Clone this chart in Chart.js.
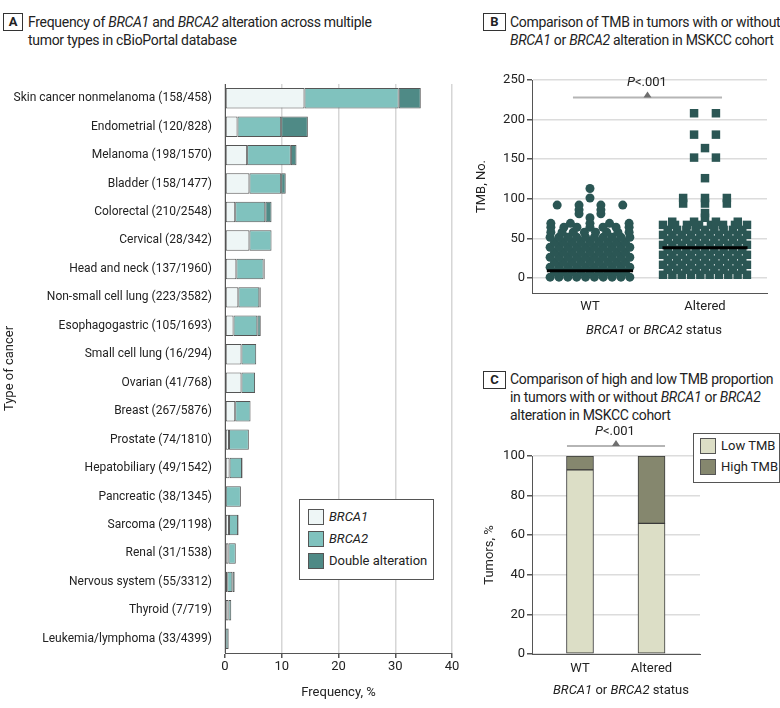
<!DOCTYPE html>
<html>
<head>
<meta charset="utf-8">
<script src="https://cdn.jsdelivr.net/npm/chart.js@4.4.1/dist/chart.umd.min.js"></script>
<style>
body { margin: 0; width: 780px; height: 708px; position: relative; overflow: hidden; background: #fff; font-family: Roboto, 'Liberation Sans', sans-serif; color: #222; }
canvas { position: absolute; }
.box { position: absolute; border: 1px solid #333; font-weight: bold; font-size: 13px; text-align: center; line-height: 16px; height: 16px; }
.hdr { position: absolute; font-size: 14px; line-height: 18px; letter-spacing: -0.3px; white-space: nowrap; }
.txt { position: absolute; font-size: 13px; white-space: nowrap; }
.legend { position: absolute; border: 1px solid #555; background: #fff; font-size: 13px; }
.li { position: absolute; left: 8px; white-space: nowrap; line-height: 16px; }
.sw { display: inline-block; width: 14px; height: 14px; border: 1px solid #555; vertical-align: top; margin-right: 5px; }
</style>
</head>
<body>

<div class="box" style="left:3px;top:13px;width:18px">A</div>
<div class="hdr" style="left:28px;top:13px">Frequency of <i>BRCA1</i> and <i>BRCA2</i> alteration across multiple<br>tumor types in cBioPortal database</div>

<div class="box" style="left:483px;top:13px;width:21px">B</div>
<div class="hdr" style="left:510px;top:13px">Comparison of TMB in tumors with or without<br><i>BRCA1</i> or <i>BRCA2</i> alteration in MSKCC cohort</div>

<div class="box" style="left:483px;top:371px;width:21px">C</div>
<div class="hdr" style="left:510px;top:370px">Comparison of high and low TMB proportion<br>in tumors with or without <i>BRCA1</i> or <i>BRCA2</i><br>alteration in MSKCC cohort</div>

<canvas id="chartA" width="465" height="648" style="left:0;top:60px"></canvas>
<canvas id="chartB" width="310" height="290" style="left:470px;top:55px"></canvas>
<canvas id="chartC" width="310" height="278" style="left:470px;top:430px"></canvas>

<div class="legend" style="left:299px;top:499px;width:133px;height:79px">
  <div class="li" style="top:9px"><span class="sw" style="background:#eef6f6"></span><i>BRCA1</i></div>
  <div class="li" style="top:31px"><span class="sw" style="background:#80c2be"></span><i>BRCA2</i></div>
  <div class="li" style="top:53px"><span class="sw" style="background:#4f8a86"></span>Double alteration</div>
</div>

<div class="legend" style="left:693px;top:433px;width:85px;height:48px">
  <div class="li" style="top:4px;left:6px"><span class="sw" style="background:#dcdec6"></span>Low TMB</div>
  <div class="li" style="top:25px;left:6px"><span class="sw" style="background:#85876e"></span>High TMB</div>
</div>

<div class="txt" style="left:627px;top:74px"><i>P</i>&lt;.001</div>
<div class="txt" style="left:595px;top:423px"><i>P</i>&lt;.001</div>
<div class="txt" style="left:586px;top:322px"><i>BRCA1</i> or <i>BRCA2</i> status</div>
<div class="txt" style="left:553px;top:682px"><i>BRCA1</i> or <i>BRCA2</i> status</div>

<script>
Chart.defaults.font.family = "Roboto, 'Liberation Sans', sans-serif";
Chart.defaults.color = '#222';

// Panel A: alteration frequency per cancer type (%)
const cancerTypes = [
    'Skin cancer nonmelanoma (158/458)', 'Endometrial (120/828)', 'Melanoma (198/1570)',
    'Bladder (158/1477)', 'Colorectal (210/2548)', 'Cervical (28/342)', 'Head and neck (137/1960)',
    'Non-small cell lung (223/3582)', 'Esophagogastric (105/1693)', 'Small cell lung (16/294)',
    'Ovarian (41/768)', 'Breast (267/5876)', 'Prostate (74/1810)', 'Hepatobiliary (49/1542)',
    'Pancreatic (38/1345)', 'Sarcoma (29/1198)', 'Renal (31/1538)', 'Nervous system (55/3312)',
    'Thyroid (7/719)', 'Leukemia/lymphoma (33/4399)'
];
const brca1 = [14.0, 2.2, 3.9, 4.3, 1.8, 4.3, 2.0, 2.35, 1.5, 2.9, 2.9, 1.8, 0.7, 0.8, null, 0.7, 0.6, 0.4, 0.6, 0.1];
const brca2 = [16.6, 7.7, 7.7, 5.6, 5.3, 3.9, 4.8, 3.7, 4.2, 2.6, 2.4, 2.7, 3.5, 2.2, 2.8, 1.6, 1.3, 0.9, 0.5, 0.5];
const doubleAlt = [3.9, 4.7, 1.0, 0.8, 1.1, null, 0.2, 0.25, 0.6, null, null, null, null, 0.1, null, 0.1, null, 0.4, null, 0.1];

// Panel B: TMB swarm rows [TMB value, number of tumors in the row]
const statusLabels = ['WT', 'Altered'];
const wtRows = [
    [1, 10], [7.3, 9], [13.6, 10], [19.9, 9], [26.2, 10], [32.5, 9], [38.8, 10], [45.1, 9],
    [51.4, 10], [57.7, 8], [64, 7], [69, 5], [76, 1], [81, 2], [86, 2], [92, 4], [101, 1], [113, 1]
];
const altRows = [
    [4, 10], [10.3, 9], [16.6, 10], [22.9, 9], [29.2, 10], [35.5, 9], [41.8, 10], [48.1, 9],
    [54.4, 10], [60.7, 9], [67, 8], [71, 4], [76, 1], [82, 1], [94, 3], [101, 3], [126, 1],
    [152, 2], [164, 1], [181, 2], [208, 2]
];
const tmbMedian = [9, 38];

// Panel C: share of tumors (%)
const lowTmb = [93, 66];
const highTmb = [7, 34];

// spread each row sideways: packed rows use a fixed step, sparse rows fan out
function swarm(rows, center, step, spread) {
    const pts = [];
    rows.forEach(([v, n]) => {
        const gap = n >= 9 ? step : (n > 1 ? Math.min(0.19, spread / (n - 1)) : 0);
        for (let i = 0; i < n; i++) {
            pts.push({ x: center + (i - (n - 1) / 2) * gap, y: v });
        }
    });
    return pts;
}

// bracket with a small triangle, drawn above the groups
function bracket(yValue, x0, x1) {
    return {
        id: 'bracket',
        afterDraw(chart) {
            const { ctx, scales: { x, y } } = chart;
            const py = y.getPixelForValue(yValue);
            const a = x.getPixelForValue(x0), b = x.getPixelForValue(x1);
            const m = (a + b) / 2;
            ctx.save();
            ctx.strokeStyle = '#b5b5b5';
            ctx.lineWidth = 2;
            ctx.beginPath();
            ctx.moveTo(a, py);
            ctx.lineTo(b, py);
            ctx.stroke();
            ctx.fillStyle = '#6e6e6e';
            ctx.beginPath();
            ctx.moveTo(m - 4, py);
            ctx.lineTo(m + 4, py);
            ctx.lineTo(m, py - 6);
            ctx.closePath();
            ctx.fill();
            ctx.restore();
        }
    };
}

const tickStatus = (v) => (v === 1 ? statusLabels[0] : v === 2 ? statusLabels[1] : '');

new Chart(document.getElementById('chartA'), {
    type: 'bar',
    data: {
        labels: cancerTypes,
        datasets: [
            { label: 'BRCA1', data: brca1, backgroundColor: '#eef6f6' },
            { label: 'BRCA2', data: brca2, backgroundColor: '#80c2be' },
            { label: 'Double alteration', data: doubleAlt, backgroundColor: '#4f8a86' }
        ]
    },
    options: {
        indexAxis: 'y',
        responsive: false,
        animation: false,
        layout: { padding: { top: 24, right: 13 } },
        datasets: { bar: { categoryPercentage: 0.72, barPercentage: 1, borderColor: '#555', borderWidth: 1, borderSkipped: false } },
        plugins: { legend: { display: false }, tooltip: { enabled: false } },
        scales: {
            x: {
                stacked: true, min: 0, max: 40,
                ticks: { stepSize: 10, font: { size: 13 }, padding: 1 },
                grid: { color: '#d6d6d6', lineWidth: 1.5, tickColor: '#555', tickLength: 5 },
                border: { color: '#555' },
                title: { display: true, text: 'Frequency, %', font: { size: 13 }, padding: { top: 2, bottom: 7 } },
                afterFit: (s) => { s.height = 55; }
            },
            y: {
                stacked: true,
                ticks: { font: { size: 12 }, padding: 5, color: '#222' },
                grid: { display: false },
                border: { color: '#555' },
                title: { display: true, text: 'Type of cancer', font: { size: 13 }, padding: { top: 2 } },
                afterFit: (s) => { s.width = 225; }
            }
        }
    }
});

new Chart(document.getElementById('chartB'), {
    type: 'scatter',
    data: {
        datasets: [
            { data: swarm(wtRows, 1, 0.077, 0.68), order: 2, pointStyle: 'circle', pointRadius: 4.5, backgroundColor: '#2b5654', borderWidth: 0 },
            { data: swarm(altRows, 2, 0.081, 0.73), order: 2, pointStyle: 'rect', pointRadius: 6, backgroundColor: '#2b5654', borderWidth: 0 },
            { type: 'line', order: 1, data: [{ x: 0.625, y: tmbMedian[0] }, { x: 1.375, y: tmbMedian[0] }], borderColor: '#000', borderWidth: 3, pointRadius: 0 },
            { type: 'line', order: 1, data: [{ x: 1.63, y: tmbMedian[1] }, { x: 2.37, y: tmbMedian[1] }], borderColor: '#000', borderWidth: 3, pointRadius: 0 }
        ]
    },
    options: {
        responsive: false,
        animation: false,
        clip: false,
        layout: { padding: { top: 25, right: 13 } },
        plugins: { legend: { display: false }, tooltip: { enabled: false } },
        scales: {
            x: {
                type: 'linear', min: 0.496, max: 2.539,
                afterBuildTicks: (s) => { s.ticks = [{ value: 1 }, { value: 2 }]; },
                ticks: { callback: tickStatus, font: { size: 13 }, padding: 6, maxRotation: 0 },
                grid: { display: false, drawTicks: false },
                border: { color: '#555' },
                afterFit: (s) => { s.height = 52; }
            },
            y: {
                min: -19, max: 250,
                afterBuildTicks: (s) => { s.ticks = [0, 50, 100, 150, 200, 250].map(v => ({ value: v })); },
                ticks: { font: { size: 13 }, padding: 2 },
                grid: { color: '#dcdcdc', lineWidth: 1.5, tickColor: '#555', tickLength: 5 },
                border: { color: '#555' },
                title: { display: true, text: 'TMB, No.', font: { size: 13 }, padding: { top: 4 } },
                afterFit: (s) => { s.width = 62; }
            }
        }
    },
    plugins: [bracket(228, 0.852, 2.148)]
});

new Chart(document.getElementById('chartC'), {
    type: 'bar',
    data: {
        datasets: [
            { label: 'Low TMB', data: lowTmb.map((v, i) => ({ x: i + 1, y: v })), backgroundColor: '#dcdec6' },
            { label: 'High TMB', data: highTmb.map((v, i) => ({ x: i + 1, y: v })), backgroundColor: '#85876e' }
        ]
    },
    options: {
        responsive: false,
        animation: false,
        layout: { padding: { top: 26, right: 80 } },
        datasets: { bar: { barThickness: 27, borderColor: '#3a3a3a', borderWidth: 1, borderSkipped: false } },
        plugins: { legend: { display: false }, tooltip: { enabled: false } },
        scales: {
            x: {
                type: 'linear', stacked: true, offset: false, min: 0.329, max: 2.678,
                afterBuildTicks: (s) => { s.ticks = [{ value: 1 }, { value: 2 }]; },
                ticks: { callback: tickStatus, font: { size: 13 }, padding: 7, maxRotation: 0 },
                grid: { display: false, drawTicks: false, offset: false },
                border: { color: '#555' },
                afterFit: (s) => { s.height = 54; }
            },
            y: {
                stacked: true, min: 0, max: 100,
                ticks: { stepSize: 20, font: { size: 13 }, padding: 2 },
                grid: { color: '#dcdcdc', lineWidth: 1.5, tickColor: '#555', tickLength: 5 },
                border: { color: '#555' },
                title: { display: true, text: 'Tumors, %', font: { size: 13 }, padding: { top: 12 } },
                afterFit: (s) => { s.width = 62; }
            }
        }
    },
    plugins: [bracket(105, 0.818, 2.189)]
});
</script>
</body>
</html>
